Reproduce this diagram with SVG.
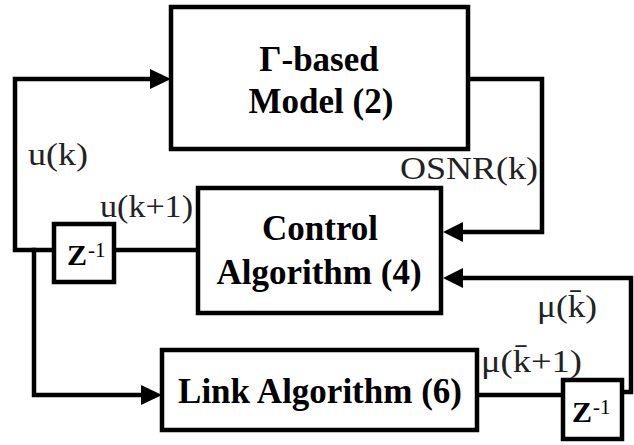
<svg xmlns="http://www.w3.org/2000/svg" width="634" height="445" viewBox="0 0 634 445">
<style>
.box{fill:#fff;stroke:#000;stroke-width:4.5}
.ln{fill:none;stroke:#000;stroke-width:4.5;stroke-linejoin:miter;stroke-linecap:square}
text{font-family:'Liberation Serif','DejaVu Serif','Times New Roman',serif;fill:#000}
.b{font-weight:bold;font-size:35px}
.z{font-weight:bold;font-size:30px}
.sup{font-size:21px}
.l{font-size:32px;fill:#222}
</style>
<rect width="634" height="445" fill="#fff"/>
<g id="connectors">
<path class="ln" d="M54,250 H15 V79 H150"/>
<path class="ln" d="M114,250 H198"/>
<path class="ln" d="M34,250 V395 H141"/>
<path class="ln" d="M468,79 H542 V232 H462"/>
<path class="ln" d="M477,395 H563"/>
<path class="ln" d="M622,392 H631 V278 H462"/>
<path d="M171,79 l-21,-10 v20 z" fill="#000"/>
<path d="M162,395 l-21,-10 v20 z" fill="#000"/>
<path d="M443,232 l20,-10 v20 z" fill="#000"/>
<path d="M443,278 l20,-10 v20 z" fill="#000"/>
</g>
<g id="model">
<rect class="box" x="171" y="7" width="297" height="142"/>
<text class="b" x="319" y="71" text-anchor="middle" font-family="Liberation Serif, serif">Γ-based</text>
<text class="b" x="321" y="113" text-anchor="middle" font-family="Liberation Serif, serif">Model (2)</text>
</g>
<g id="control">
<rect class="box" x="198" y="188" width="243" height="125"/>
<text class="b" x="320" y="240" text-anchor="middle" font-family="Liberation Serif, serif">Control</text>
<text class="b" x="319" y="284" text-anchor="middle" font-family="Liberation Serif, serif">Algorithm (4)</text>
</g>
<g id="link">
<rect class="box" x="162" y="350" width="315" height="80"/>
<text class="b" x="320" y="403" text-anchor="middle" font-family="Liberation Serif, serif">Link Algorithm (6)</text>
</g>
<g id="z1">
<rect class="box" x="54" y="224" width="60" height="58"/>
<text class="z" x="67" y="265" font-family="Liberation Serif, serif">Z</text>
<text class="sup" x="88" y="257" font-family="Liberation Serif, serif">-1</text>
</g>
<g id="z2">
<rect class="box" x="563" y="380" width="59" height="59"/>
<text class="z" x="572" y="422" font-family="Liberation Serif, serif">Z</text>
<text class="sup" x="593" y="414" font-family="Liberation Serif, serif">-1</text>
</g>
<g id="labels">
<text class="l" x="28" y="165" textLength="60" lengthAdjust="spacingAndGlyphs">u(k)</text>
<text class="l" x="100" y="217" textLength="93" lengthAdjust="spacingAndGlyphs">u(k+1)</text>
<text class="l" x="400" y="179" textLength="138" lengthAdjust="spacingAndGlyphs">OSNR(k)</text>
<text class="l" x="537" y="317" textLength="60" lengthAdjust="spacingAndGlyphs">μ(k̄)</text>
<text class="l" x="481" y="372" textLength="101" lengthAdjust="spacingAndGlyphs">μ(k̄+1)</text>
</g>
</svg>
